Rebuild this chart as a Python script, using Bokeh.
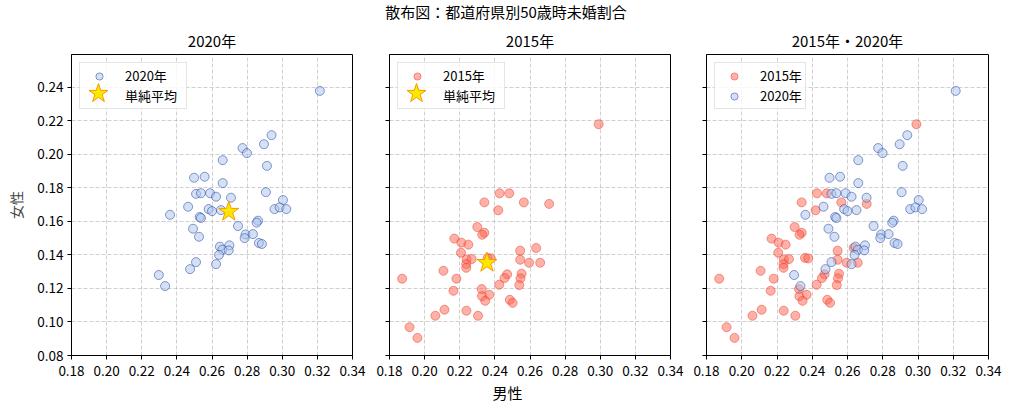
import numpy as np
from bokeh.embed import file_html
from bokeh.layouts import column, row
from bokeh.models import CustomJSTickFormatter, FixedTicker, Legend, LegendItem, NumeralTickFormatter, Range1d
from bokeh.plotting import figure
from bokeh.resources import INLINE

FONT = "Noto Sans CJK JP"

# Data - 50歳時未婚割合 (男性, 女性) per prefecture
men_2020 = [0.3214, 0.2939, 0.2896, 0.2774, 0.2799, 0.2661, 0.2913, 0.2498, 0.2558, 0.2661,
            0.2509, 0.2537, 0.2589, 0.2623, 0.2708, 0.2907, 0.3004, 0.2464, 0.2581, 0.2600,
            0.2651, 0.2956, 0.2985, 0.3023, 0.2361, 0.2530, 0.2537, 0.2862, 0.2854, 0.2748,
            0.2492, 0.2526, 0.2791, 0.2786, 0.2833, 0.2867, 0.2884, 0.2645, 0.2699, 0.2659,
            0.2695, 0.2640, 0.2623, 0.2509, 0.2475, 0.2297, 0.2333]
women_2020 = [0.2378, 0.2114, 0.2060, 0.2037, 0.2007, 0.1965, 0.1931, 0.1860, 0.1866, 0.1828,
              0.1764, 0.1768, 0.1768, 0.1747, 0.1741, 0.1774, 0.1727, 0.1687, 0.1673, 0.1661,
              0.1667, 0.1673, 0.1683, 0.1673, 0.1639, 0.1626, 0.1620, 0.1604, 0.1592, 0.1572,
              0.1556, 0.1508, 0.1522, 0.1500, 0.1524, 0.1471, 0.1465, 0.1449, 0.1457, 0.1431,
              0.1427, 0.1400, 0.1345, 0.1357, 0.1315, 0.1280, 0.1214]

men_2015 = [0.2991, 0.2427, 0.2482, 0.2340, 0.2565, 0.2709, 0.2419, 0.2300, 0.2340, 0.2328,
            0.2169, 0.2209, 0.2249, 0.2635, 0.2544, 0.2207, 0.2544, 0.2595, 0.2658, 0.2239,
            0.2268, 0.2237, 0.2237, 0.2107, 0.1872, 0.2181, 0.2470, 0.2455, 0.2552, 0.2546,
            0.2425, 0.2539, 0.2325, 0.2164, 0.2327, 0.2368, 0.2345, 0.2485, 0.2501, 0.2113,
            0.2238, 0.2061, 0.2304, 0.1914, 0.1959, 0.2359, 0.2377]
women_2015 = [0.2179, 0.1767, 0.1767, 0.1713, 0.1713, 0.1704, 0.1666, 0.1566, 0.1532, 0.1520,
              0.1497, 0.1473, 0.1461, 0.1441, 0.1425, 0.1413, 0.1371, 0.1353, 0.1353, 0.1373,
              0.1375, 0.1345, 0.1323, 0.1305, 0.1258, 0.1258, 0.1284, 0.1262, 0.1288, 0.1260,
              0.1222, 0.1220, 0.1196, 0.1186, 0.1154, 0.1162, 0.1126, 0.1132, 0.1114, 0.1073,
              0.1067, 0.1037, 0.1037, 0.0969, 0.0905, 0.1382, 0.1379]

x_ticks = [0.18, 0.20, 0.22, 0.24, 0.26, 0.28, 0.30, 0.32, 0.34]
y_ticks = [0.08, 0.10, 0.12, 0.14, 0.16, 0.18, 0.20, 0.22, 0.24]

# Colors
BLUE_FILL = "#A9C3EC"
BLUE_LINE = "#2B47A6"
RED_FILL = "#FF6450"
RED_LINE = "#E8402E"
STAR_FILL = "#FFE800"
STAR_LINE = "#F29A00"
GRID = "#B0B0B0"

y_range = Range1d(0.08, 0.2595)

ROW_H = 358
FRAME_H = 301


def make_panel(title, width, left, right, show_labels):
    p = figure(
        width=width,
        height=ROW_H,
        x_range=Range1d(0.18, 0.34),
        y_range=y_range,
        toolbar_location=None,
        output_backend="svg",
        min_border_left=left,
        min_border_right=right,
        min_border_top=31,
        min_border_bottom=26,
    )
    p.title.text = title
    p.title.align = "center"
    p.title.text_font = FONT
    p.title.text_font_size = "15px"
    p.title.text_font_style = "normal"
    p.title.text_color = "black"
    p.title.standoff = 7

    p.xaxis.ticker = FixedTicker(ticks=x_ticks)
    p.yaxis.ticker = FixedTicker(ticks=y_ticks)
    p.xaxis.formatter = NumeralTickFormatter(format="0.00")
    if show_labels:
        p.yaxis.formatter = NumeralTickFormatter(format="0.00")
    else:
        p.yaxis.formatter = CustomJSTickFormatter(code="return ''")

    for ax in (p.xaxis, p.yaxis):
        ax.axis_line_color = "black"
        ax.major_tick_line_color = "black"
        ax.major_tick_in = 0
        ax.major_tick_out = 4
        ax.minor_tick_line_color = None
        ax.major_label_text_font = FONT
        ax.major_label_text_font_size = "13.5px"
        ax.major_label_text_color = "black"
        ax.major_label_standoff = 4
    p.xaxis.major_label_standoff = 6

    p.outline_line_color = "black"
    p.background_fill_color = "white"
    p.border_fill_color = "white"

    for g in (p.xgrid, p.ygrid):
        g.grid_line_color = GRID
        g.grid_line_width = 0.6
        g.grid_line_dash = "4 2"
    return p


def make_legend(p, items, label_width=None):
    lg = Legend(items=items, location="top_left", margin=8, padding=3, spacing=1,
                glyph_width=32, glyph_height=18, label_height=18, label_standoff=10,
                label_text_font=FONT, label_text_font_size="13px", label_text_color="black",
                border_line_color="#CCCCCC", border_line_width=1, background_fill_alpha=0.8)
    if label_width:
        lg.label_width = label_width
    p.add_layout(lg)
    return lg


def blue(p):
    return p.scatter(men_2020, women_2020, size=9, fill_color=BLUE_FILL, fill_alpha=0.5,
                     line_color=BLUE_LINE, line_alpha=0.55, line_width=1)


def red(p):
    return p.scatter(men_2015, women_2015, size=9, fill_color=RED_FILL, fill_alpha=0.5,
                     line_color=RED_LINE, line_alpha=0.5, line_width=1)


def star(p, xs, ys, first_item):
    r = p.scatter([float(np.mean(xs))], [float(np.mean(ys))], marker="star", size=21,
                  fill_color=STAR_FILL, line_color=STAR_LINE, line_width=1)
    # legend: label only in the main box, the big star is drawn by an overlay legend
    blank = p.scatter(x=[], y=[], marker="star", fill_alpha=0, line_alpha=0)
    make_legend(p, [LegendItem(label=first_item[0], renderers=[first_item[1]]),
                    LegendItem(label="単純平均", renderers=[blank])], 58)
    # row 2 glyph centre sits 27 px right of and 39 px below the frame's top-left corner
    big = Legend(items=[LegendItem(label=" ", renderers=[r])], location=(2, FRAME_H - 64),
                 margin=0, padding=0, glyph_width=50, glyph_height=50, label_standoff=0,
                 label_text_font_size="1px", border_line_color=None, background_fill_alpha=0)
    p.add_layout(big)


p1 = make_panel("2020年", 370, 71, 18, True)
b1 = blue(p1)
star(p1, men_2020, women_2020, ("2020年", b1))
p1.yaxis.axis_label = "女性"
p1.yaxis.axis_label_text_font = FONT
p1.yaxis.axis_label_text_font_size = "14px"
p1.yaxis.axis_label_text_font_style = "normal"
p1.yaxis.axis_label_standoff = 8

p2 = make_panel("2015年", 318, 19, 18, False)
r2 = red(p2)
star(p2, men_2015, women_2015, ("2015年", r2))

p3 = make_panel("2015年・2020年", 318, 18, 18, False)
r3 = red(p3)
b3 = blue(p3)
make_legend(p3, [LegendItem(label="2015年", renderers=[r3]), LegendItem(label="2020年", renderers=[b3])])


def text_strip(height, text, x, y):
    s = figure(width=1006, height=height, x_range=Range1d(0, 1006), y_range=Range1d(0, height),
               x_axis_type=None, y_axis_type=None, toolbar_location=None, output_backend="svg",
               min_border=0, outline_line_color=None)
    s.text(x=[x], y=[y], text=[text], text_align="center", text_baseline="middle",
           text_font={"value": FONT}, text_font_size={"value": "15px"}, text_color="black")
    return s


top = text_strip(23, "散布図：都道府県別50歳時未婚割合", 505.5, 12)
bottom = text_strip(22, "男性", 507, 11)

layout = column(top, row(p1, p2, p3), bottom)

open("out.html", "w").write(file_html(layout, INLINE))
